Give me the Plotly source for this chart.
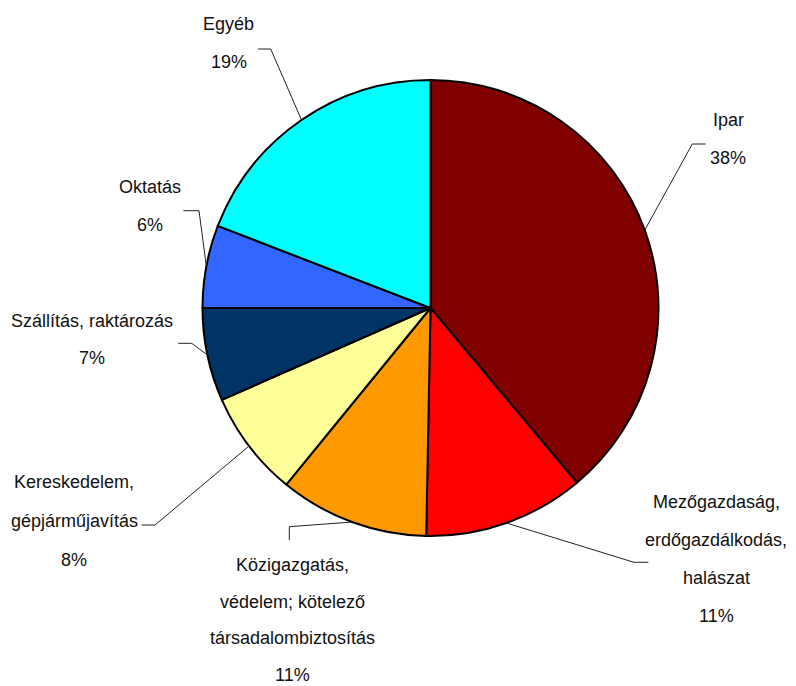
import math
import plotly.graph_objects as go

# ---- data ----
categories = ["Ipar",
              "Mezőgazdaság, erdőgazdálkodás, halászat",
              "Közigazgatás, védelem; kötelező társadalombiztosítás",
              "Kereskedelem, gépjárműjavítás",
              "Szállítás, raktározás",
              "Oktatás",
              "Egyéb"]
values = [38.9, 11.4, 10.6, 7.5, 6.6, 5.86, 19.14]
pct_labels = ["38%", "11%", "11%", "8%", "7%", "6%", "19%"]
label_lines = [["Ipar"],
               ["Mezőgazdaság,", "erdőgazdálkodás,", "halászat"],
               ["Közigazgatás,", "védelem; kötelező", "társadalombiztosítás"],
               ["Kereskedelem,", "gépjárműjavítás"],
               ["Szállítás, raktározás"],
               ["Oktatás"],
               ["Egyéb"]]
colors = ["#800000", "#FF0000", "#FF9900", "#FFFF99", "#003366", "#3366FF", "#00FFFF"]

# ---- layout (page pixels; the page body adds an 8px offset) ----
OFF = 8
W, H = 796 - OFF, 686 - OFF
CX, CY, R = 430.5, 308.0, 228.0
label_pos = [(728, 120), (716, 502), (292, 565), (74, 482), (92, 321), (150, 187), (229, 24)]
line_gaps = [38, 38, 36.5, 39, 37, 38, 38]
label_size = [18, 18, 18, 18, 18, 18, 18]
knees = [(692.3, 144), (634, 562.3), (289.3, 526.7), (155, 525), (191.7, 343.3), (199, 210.7), (270.7, 49)]
ends = [(705.7, 144), (648.3, 562.3), (289.3, 540), (141.7, 525), (178.3, 343.3), (183.3, 210.7), (258, 49)]


def px(x):
    return (x - OFF) / W


def py(y):
    return 1 - (y - OFF) / H


fig = go.Figure(go.Pie(
    values=values, labels=categories, sort=False, direction="clockwise", rotation=0,
    marker=dict(colors=colors, line=dict(color="black", width=2)),
    textinfo="none", hoverinfo="label+percent", showlegend=False,
    domain=dict(x=[px(CX - R), px(CX + R)], y=[py(CY + R), py(CY - R)]),
))

annotations = []
shapes = []
total = sum(values)
cum = 0.0
for i, v in enumerate(values):
    mid = (cum + v / 2) / total * 2 * math.pi
    cum += v
    sx = CX + R * math.sin(mid)
    sy = CY - R * math.cos(mid)
    kx, ky = knees[i]
    ex, ey = ends[i]
    shapes.append(dict(type="path", xref="paper", yref="paper",
                       path=f"M {px(sx)},{py(sy)} L {px(kx)},{py(ky)} L {px(ex)},{py(ey)}",
                       line=dict(color="#222222", width=1)))
    lx, ly = label_pos[i]
    for j, t in enumerate(label_lines[i] + [pct_labels[i]]):
        annotations.append(dict(x=px(lx), y=py(ly + j * line_gaps[i]), xref="paper", yref="paper",
                                text=t, showarrow=False, xanchor="center", yanchor="middle",
                                font=dict(family="Liberation Sans, Arial", size=label_size[i],
                                          color="#111111")))

fig.update_layout(width=W, height=H, margin=dict(l=0, r=0, t=0, b=0),
                  paper_bgcolor="white", plot_bgcolor="white",
                  annotations=annotations, shapes=shapes)
fig.write_html("out.html")
